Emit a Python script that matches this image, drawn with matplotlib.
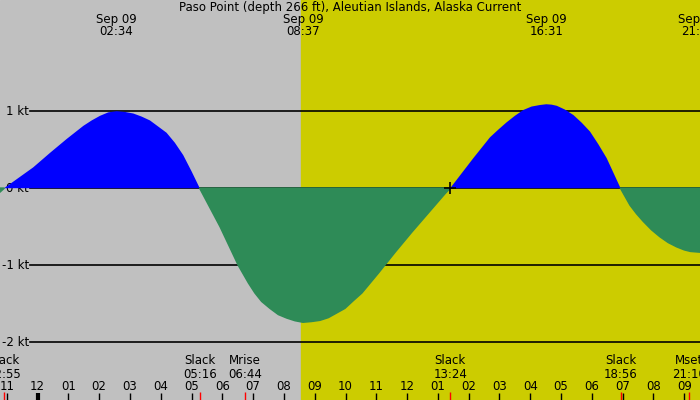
import numpy as np
import matplotlib
matplotlib.use("Agg")
import matplotlib.pyplot as plt
import matplotlib.transforms as mtransforms

# current readings, hours from midnight Sep 09, knots
hours = [-1.22, -1.083, -0.14, 0.41, 0.95, 1.49, 1.76, 2.03, 2.30, 2.57, 2.84, 3.11,
         3.38, 3.65, 3.92, 4.19, 4.46, 4.73, 5.00, 5.267, 5.93, 6.52, 6.85, 7.06,
         7.28, 7.55, 7.82, 8.09, 8.36, 8.62, 8.90, 9.17, 9.44, 9.71, 9.98, 10.25,
         10.53, 11.07, 11.61, 12.15, 12.69, 13.23, 13.40, 14.15, 14.69, 14.96, 15.23,
         15.50, 15.77, 16.04, 16.31, 16.52, 16.69, 16.86, 17.13, 17.40, 17.67, 17.94,
         18.21, 18.48, 18.93, 19.24, 19.45, 19.67, 19.94, 20.21, 20.48, 20.75, 21.0,
         21.2, 21.51]
knots = [-0.05, 0.0, 0.27, 0.46, 0.64, 0.81, 0.88, 0.94, 0.985, 1.00, 0.99, 0.97,
         0.93, 0.88, 0.80, 0.72, 0.59, 0.43, 0.22, 0.0, -0.50, -1.00, -1.23, -1.36,
         -1.47, -1.56, -1.64, -1.685, -1.72, -1.74, -1.73, -1.715, -1.68, -1.62, -1.56, -1.46,
         -1.36, -1.10, -0.83, -0.57, -0.32, -0.07, 0.0, 0.39, 0.66, 0.76, 0.855,
         0.94, 1.015, 1.06, 1.08, 1.09, 1.085, 1.07, 1.02, 0.95, 0.85, 0.735,
         0.57, 0.39, 0.0, -0.22, -0.33, -0.43, -0.54, -0.63, -0.705, -0.76, -0.80,
         -0.82, -0.83]

# max / min current (top labels)
peak_times = [2.567, 8.617, 16.517, 21.46]
peak_labels = ["02:34", "08:37", "16:31", "21:28"]

# bottom events
event_times = [-1.083, 5.267, 6.733, 13.4, 18.933, 21.167]
event_names = ["Slack", "Slack", "Mrise", "Slack", "Slack", "Mset"]
event_labels = ["22:55", "05:16", "06:44", "13:24", "18:56", "21:10"]

hour_ticks = list(range(-1, 22))
hour_labels = ["%02d" % (((h % 12) or 12)) for h in hour_ticks]

sunrise = 8.555
y_ticks = [1, 0, -1, -2]
y_labels = ["1 kt", "0 kt", "-1 kt", "-2 kt"]

x0, x1 = -1.218, 21.51
fig = plt.figure(figsize=(7, 4), dpi=100)
ax = fig.add_axes([0, 0, 1, 1])
ax.set_xlim(x0, x1)
ax.set_ylim(-2.751, 2.444)
ax.axis("off")

ax.axvspan(x0, sunrise, color="#c0c0c0", zorder=0)
ax.axvspan(sunrise, x1, color="#cccc00", zorder=0)

for yv, lab in zip(y_ticks, y_labels):
    ax.axhline(yv, xmin=30 / 700, xmax=1, color="black", lw=1.2, zorder=1)
    ax.text(-0.28, yv, lab, ha="right", va="center", fontsize=8.5, zorder=1.5)

h = np.array(hours)
k = np.array(knots)
ax.fill_between(h, k, 0, where=k >= 0, interpolate=True, color="#0000ff", lw=0, zorder=2)
ax.fill_between(h, k, 0, where=k <= 0, interpolate=True, color="#2e8b57",
                edgecolor="#2e8b57", lw=1.2, zorder=2)
ax.plot([13.4], [0], marker="+", color="black", ms=9, mew=1.2, zorder=4)

tr = mtransforms.blended_transform_factory(ax.transData, ax.transAxes)
ax.text(0.5, 0.981, "Paso Point (depth 266 ft), Aleutian Islands, Alaska Current",
        transform=ax.transAxes, ha="center", va="center", fontsize=8.5)
for t, lab in zip(peak_times, peak_labels):
    ax.text(t, 0.951, "Sep 09", transform=tr, ha="center", va="center", fontsize=8.5)
    ax.text(t, 0.9215, lab, transform=tr, ha="center", va="center", fontsize=8.5)

for t, n, lab in zip(event_times, event_names, event_labels):
    ax.text(t, 0.0975, n, transform=tr, ha="center", va="center", fontsize=8.5)
    ax.text(t, 0.065, lab, transform=tr, ha="center", va="center", fontsize=8.5)
    ax.vlines(t, 0, 0.02, transform=tr, color="red", lw=1, zorder=5)

for t, lab in zip(hour_ticks, hour_labels):
    ax.vlines(t, 0, 0.0175, transform=tr, color="black", lw=3 if t == 0 else 1, zorder=5)
    ax.text(t, 0.035, lab, transform=tr, ha="center", va="center", fontsize=8.5)

fig.savefig("out.png", dpi=100)
